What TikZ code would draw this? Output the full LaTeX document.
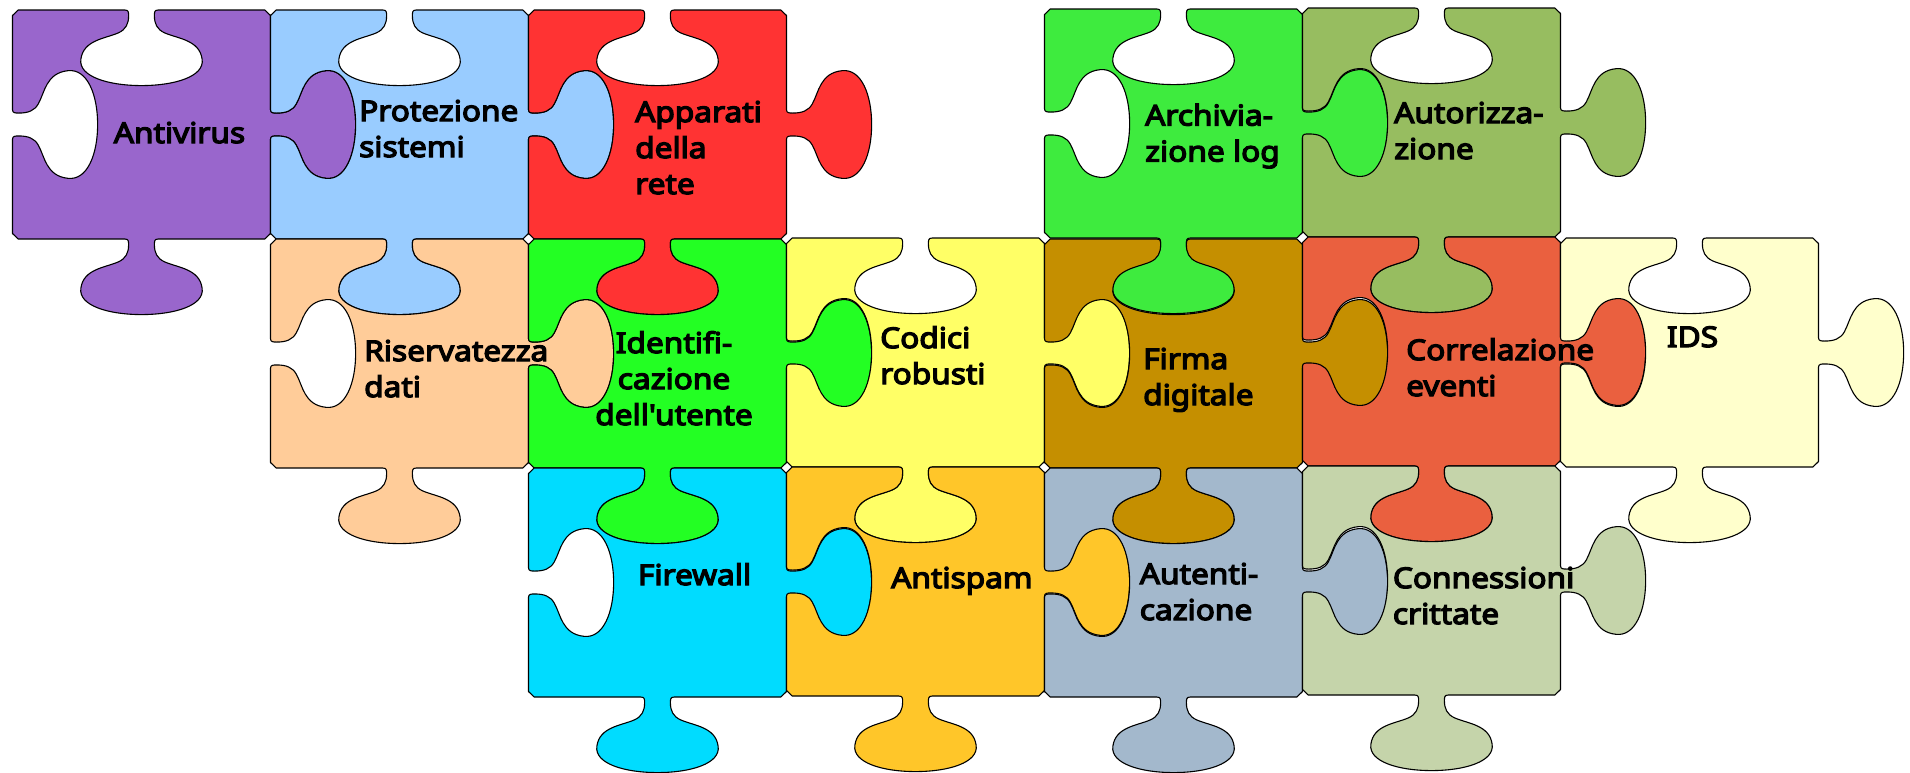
\documentclass[tikz,border=0pt]{standalone}
\usepackage{fontspec}
\newfontfamily\lblfont{Noto Sans}[FakeBold=4.5, FakeStretch=1.11, Ligatures=TeXOff]

\definecolor{cPurple}{HTML}{9966CC}
\definecolor{cSky}{HTML}{99CCFF}
\definecolor{cRed}{HTML}{FF3333}
\definecolor{cLime}{HTML}{3EEB3E}
\definecolor{cOlive}{HTML}{97BD60}
\definecolor{cPeach}{HTML}{FFCC99}
\definecolor{cGreen}{HTML}{23FF23}
\definecolor{cYellow}{HTML}{FFFF66}
\definecolor{cOchre}{HTML}{C58F00}
\definecolor{cCoral}{HTML}{EA603F}
\definecolor{cCream}{HTML}{FFFFCC}
\definecolor{cCyan}{HTML}{00DCFF}
\definecolor{cGold}{HTML}{FFC629}
\definecolor{cSteel}{HTML}{A3B8CC}
\definecolor{cSage}{HTML}{C5D4AA}

% one knob (tab or blank) in the frame of a side: u along the side, d away from it
\newcommand\knob[1]{%
 -- ([#1]-0.065,0)
 .. controls ([#1]-0.05,0) and ([#1]-0.05,0.01) .. ([#1]-0.05,0.025)
 .. controls ([#1]-0.05,0.06) and ([#1]-0.06,0.085) .. ([#1]-0.09,0.10)
 .. controls ([#1]-0.14,0.125) and ([#1]-0.225,0.13) .. ([#1]-0.235,0.215)
 .. controls ([#1]-0.245,0.29) and ([#1]-0.13,0.33) .. ([#1]0,0.33)
 .. controls ([#1]0.13,0.33) and ([#1]0.245,0.29) .. ([#1]0.235,0.215)
 .. controls ([#1]0.225,0.13) and ([#1]0.14,0.125) .. ([#1]0.09,0.10)
 .. controls ([#1]0.06,0.085) and ([#1]0.05,0.06) .. ([#1]0.05,0.025)
 .. controls ([#1]0.05,0.01) and ([#1]0.05,0) .. ([#1]0.065,0)
}

% a puzzle piece: column, row, vertical nudge (px), fill colour
\newcommand\piece[4]{%
  \begin{scope}[shift={({12.5+258*#1},{-10-229*#2-(#3)})}, xscale=258, yscale=-229]
    \path[pc, fill=#4] (0.022,0) \knob{sT} -- (0.978,0) -- (1,0.024)
      \knob{sR} -- (1,0.976) -- (0.978,1)
      \knob{sB} -- (0.022,1) -- (0,0.976)
      \knob{sL} -- (0,0.024) -- cycle;
  \end{scope}}

\begin{document}
\begin{tikzpicture}[x=1pt,y=1pt,
  pc/.style={draw=black, line width=1.1pt, line join=round},
  lbl/.style={font=\lblfont\fontsize{28.5}{36}\selectfont, inner sep=0pt,
    align=left, anchor=base west},
  sT/.style={shift={(0.5,0)}},
  sR/.style={cm={0,1,1,0,(1,0.5)}},
  sB/.style={cm={-1,0,0,1,(0.5,1)}},
  sL/.style={cm={0,-1,1,0,(0,0.5)}}]

\path[use as bounding box] (0,0) rectangle (1910,-772);

% top row
\piece{0}{0}{0}{cPurple}
\piece{1}{0}{0}{cSky}
\piece{2}{0}{0}{cRed}
\piece{4}{0}{-1}{cLime}
\piece{5}{0}{-2}{cOlive}
% middle row
\piece{1}{1}{0}{cPeach}
\piece{2}{1}{0}{cGreen}
\piece{3}{1}{-1}{cYellow}
\piece{4}{1}{0}{cOchre}
\piece{5}{1}{-2}{cCoral}
\piece{6}{1}{-1}{cCream}
% bottom row
\piece{2}{2}{0}{cCyan}
\piece{3}{2}{-1}{cGold}
\piece{4}{2}{0}{cSteel}
\piece{5}{2}{-2}{cSage}

% labels (placed by the baseline of their last line)
\node[lbl] (antivirus) at (113.6,-143) {Antivirus};
\node[lbl] (protezione) at (359,-157) {Protezione\\sistemi};
\node[lbl] (apparati) at (635,-194) {Apparati\\della\\rete};
\node[lbl] (archiviazione) at (1145,-161.5) {Archivia-\\zione log};
\node[lbl] (autorizzazione) at (1394,-159) {Autorizza-\\zione};
\node[lbl] (riservatezza) at (364,-397) {Riservatezza\\dati};
\node[lbl, align=center, anchor=base] (identificazione) at (674,-425) {Identifi-\\cazione\\dell'utente};
\node[lbl] (codici) at (880,-384) {Codici\\robusti};
\node[lbl] (firma) at (1143,-405) {Firma\\digitale};
\node[lbl] (correlazione) at (1406,-396) {Correlazione\\eventi};
\node[lbl] (ids) at (1666.7,-347) {IDS};
\node[lbl] (firewall) at (637.8,-585) {Firewall};
\node[lbl] (antispam) at (891,-588) {Antispam};
\node[lbl] (autenticazione) at (1139.6,-620) {Autenti-\\cazione};
\node[lbl] (connessioni) at (1392.7,-624) {Connessioni\\crittate};
\end{tikzpicture}
\end{document}
